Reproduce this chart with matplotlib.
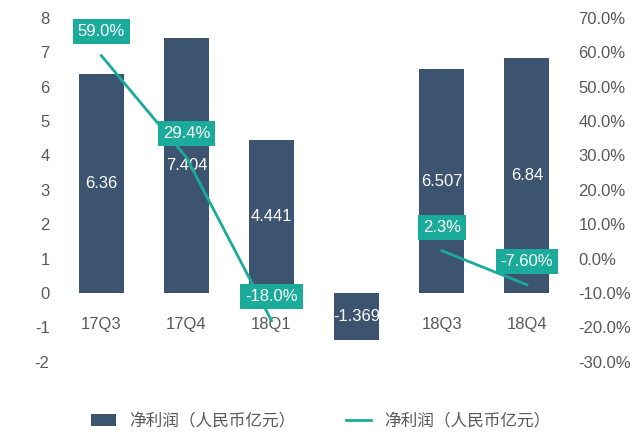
import matplotlib
matplotlib.use("Agg")
import matplotlib.pyplot as plt
import numpy as np

plt.rcParams['font.family'] = ['Liberation Sans', 'Noto Sans CJK SC', 'DejaVu Sans']
plt.rcParams['axes.unicode_minus'] = False

categories = ["17Q3", "17Q4", "18Q1", "18Q2", "18Q3", "18Q4"]
shown_categories = ["17Q3", "17Q4", "18Q1", "", "18Q3", "18Q4"]
profit = [6.36, 7.404, 4.441, -1.369, 6.507, 6.84]
profit_labels = ["6.36", "7.404", "4.441", "-1.369", "6.507", "6.84"]
growth = [59.0, 29.4, -18.0, np.nan, 2.3, -7.6]
growth_labels = ["59.0%", "29.4%", "-18.0%", "", "2.3%", "-7.60%"]

bar_c = "#3d5470"
line_c = "#1aab9b"
gray = "#595959"

fig = plt.figure(figsize=(6.41, 4.44), dpi=100)
ax = fig.add_axes([0.085, 0.185, 0.81, 0.775])
x = np.arange(len(categories))
for i, c in enumerate(shown_categories):
    if c:
        ax.text(i, -0.9, c, ha='center', va='center', fontsize=12, color=gray, zorder=1)
ax.bar(x, profit, width=0.53, color=bar_c, zorder=2, label="净利润（人民币亿元）")
for i, v in enumerate(profit):
    ax.text(i, v / 2, profit_labels[i], ha='center', va='center', fontsize=12, color='white', zorder=3)
ax.set_ylim(-2, 8)
ax.set_yticks(np.arange(-2, 9, 1))
ax.set_xlim(-0.55, 5.55)
ax.set_xticks([])
ax.tick_params(axis='y', length=0, labelsize=12, labelcolor=gray)
for s in ax.spines.values():
    s.set_visible(False)

ax2 = ax.twinx()
ax2.plot(x, growth, color=line_c, lw=2, zorder=4, label="净利润（人民币亿元）")
ax2.set_ylim(-30, 70)
ax2.set_yticks(np.arange(-30, 71, 10))
ax2.set_yticklabels([f"{v:.1f}%" for v in np.arange(-30, 71, 10)])
ax2.tick_params(axis='y', length=0, labelsize=12, labelcolor=gray)
for s in ax2.spines.values():
    s.set_visible(False)
for i, v in enumerate(growth):
    if not np.isnan(v):
        ax2.annotate(growth_labels[i], (i, v), xytext=(0, 17), textcoords='offset points',
                     ha='center', va='center', fontsize=12, color='white', zorder=5,
                     bbox=dict(boxstyle='square,pad=0.3', fc=line_c, ec='none'))

h1, l1 = ax.get_legend_handles_labels()
h2, l2 = ax2.get_legend_handles_labels()
fig.legend(h1 + h2, l1 + l2, loc='lower center', ncol=2, frameon=False,
           fontsize=12, bbox_to_anchor=(0.5, 0.0), labelcolor=gray,
           handlelength=1.5, columnspacing=3)
fig.savefig("out.png", dpi=100)
